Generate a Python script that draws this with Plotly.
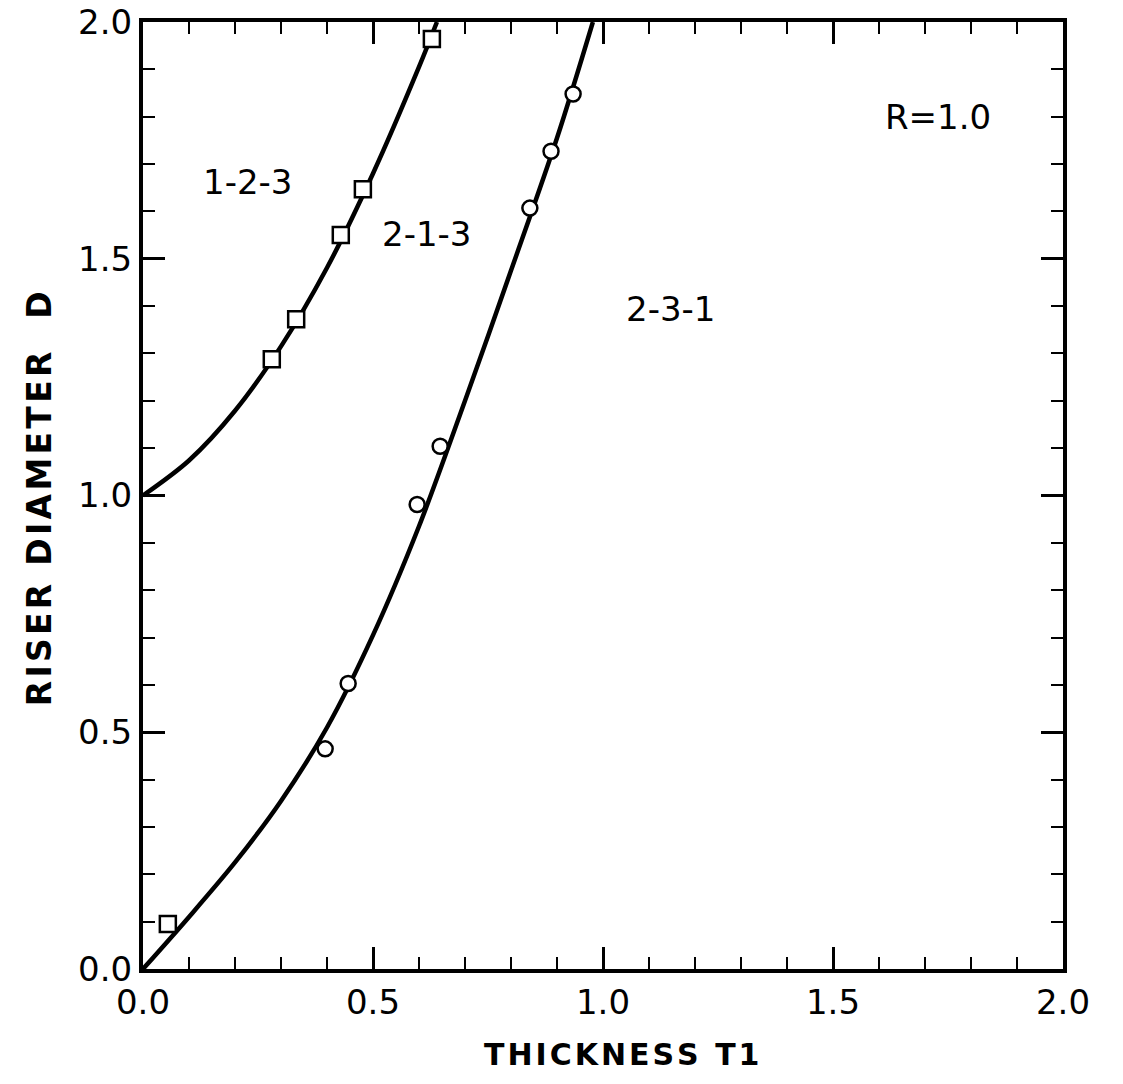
import plotly.graph_objects as go

# Curve 1 (boundary between 1-2-3 and 2-1-3)
curve1_t = [0.0, 0.1, 0.2, 0.3, 0.4, 0.5, 0.6, 0.639]
curve1_d = [1.0, 1.074, 1.179, 1.315, 1.481, 1.68, 1.905, 2.0]

# Curve 2 (boundary between 2-1-3 and 2-3-1)
curve2_t = [0.0, 0.1, 0.2, 0.3, 0.4, 0.5, 0.6, 0.7, 0.8, 0.9, 0.978]
curve2_d = [0.0, 0.11, 0.225, 0.355, 0.51, 0.705, 0.935, 1.20, 1.475, 1.755, 2.0]

# Square data points
sq_t = [0.054, 0.280, 0.333, 0.430, 0.478, 0.628]
sq_d = [0.095, 1.288, 1.372, 1.550, 1.647, 1.964]

# Circle data points
ci_t = [0.396, 0.446, 0.596, 0.646, 0.841, 0.887, 0.935]
ci_d = [0.465, 0.603, 0.981, 1.104, 1.607, 1.727, 1.848]

# Region labels
region_labels = ["1-2-3", "2-1-3", "2-3-1", "R=1.0"]
region_t = [0.228, 0.617, 1.146, 1.728]
region_d = [1.662, 1.552, 1.393, 1.80]

tick_vals = [0.0, 0.5, 1.0, 1.5, 2.0]
tick_text = ["0.0", "0.5", "1.0", "1.5", "2.0"]

FONT = "DejaVu Sans"
HS = "\u200a"

fig = go.Figure()
for ct, cd in ((curve1_t, curve1_d), (curve2_t, curve2_d)):
    fig.add_trace(go.Scatter(x=ct, y=cd, mode="lines",
                             line=dict(color="black", width=4.5, shape="spline", smoothing=0.9),
                             showlegend=False, cliponaxis=False))
fig.add_trace(go.Scatter(x=sq_t, y=sq_d, mode="markers",
                         marker=dict(symbol="square", size=16, color="white",
                                     line=dict(color="black", width=2.5)),
                         showlegend=False, cliponaxis=False))
fig.add_trace(go.Scatter(x=ci_t, y=ci_d, mode="markers",
                         marker=dict(symbol="circle", size=15, color="white",
                                     line=dict(color="black", width=2.5)),
                         showlegend=False, cliponaxis=False))

for lab, t, d in zip(region_labels, region_t, region_d):
    fig.add_annotation(x=t, y=d, text=lab, showarrow=False,
                       font=dict(family=FONT, size=34, color="black"))

axis_common = dict(
    range=[0, 2.0],
    tickvals=tick_vals, ticktext=tick_text,
    ticks="inside", ticklen=22, tickwidth=2.5, tickcolor="black",
    minor=dict(ticks="inside", ticklen=12, tickwidth=2, tickcolor="black", dtick=0.1, showgrid=False),
    showline=True, linewidth=4, linecolor="black", mirror="allticks",
    showgrid=False, zeroline=False, automargin=False,
    tickfont=dict(family=FONT, size=34, color="black"),
)

fig.update_xaxes(**axis_common)
fig.update_yaxes(**axis_common)

xtitle = "THICKNESS T1"
fig.add_annotation(x=(621 - 143) / 920, xref="paper", y=-0.09, yref="paper", yanchor="middle",
                   text=HS.join(list(xtitle)), showarrow=False,
                   font=dict(family=FONT, size=30, color="black", weight="bold"))

ytitle = "RISER DIAMETER  D"
fig.add_annotation(x=(39 - 143) / 920, xref="paper", xanchor="center", y=0.496, yref="paper",
                   text=HS.join(list(ytitle)), textangle=-90, showarrow=False,
                   font=dict(family=FONT, size=33, color="black", weight="bold"))

fig.update_layout(
    width=1123, height=1084,
    margin=dict(l=143, r=60, t=22, b=115),
    plot_bgcolor="white", paper_bgcolor="white",
    showlegend=False,
)

fig.write_html("out.html")
